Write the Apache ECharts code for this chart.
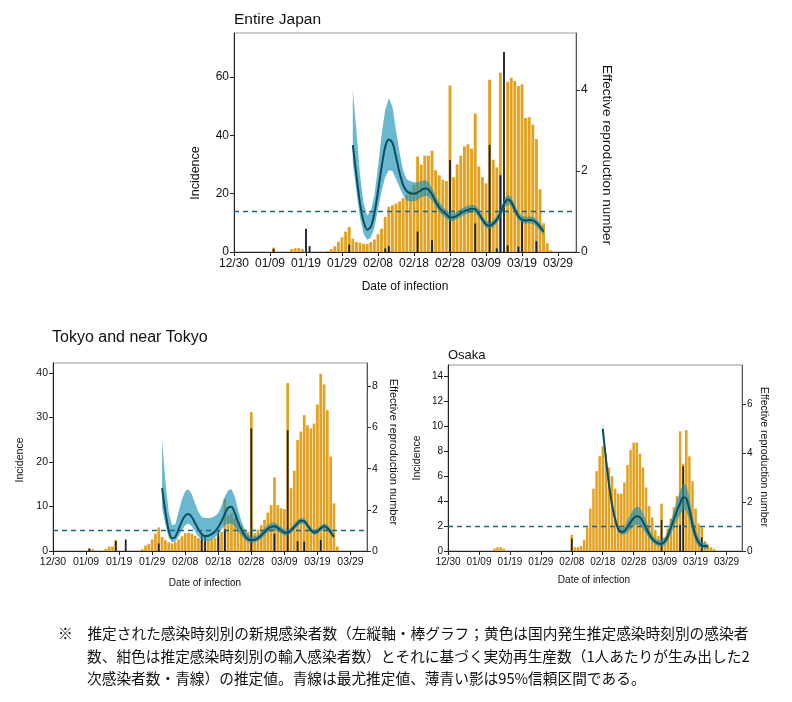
<!DOCTYPE html>
<html>
<head>
<meta charset="utf-8">
<script src="https://cdn.jsdelivr.net/npm/echarts@6.0.0/dist/echarts.min.js"></script>
<style>
html,body{margin:0;padding:0;background:#ffffff;}
#chart{width:792px;height:702px;}
</style>
</head>
<body>
<div id="chart"></div>
<script>
// ---------------- DATA ----------------
// x = days since 12/30 (day 0)
const xTickLabels = ['12/30','01/09','01/19','01/29','02/08','02/18','02/28','03/09','03/19','03/29'];

// Entire Japan: domestic (yellow) incidence per day, day 0..88
const japanYellow = [0,0,0,0,0,0,0,0,0,0, 0,1.5,0,0,0,0,1,1.3,1.3,1,
  0,0,0,0,0,0,0.3,1,2,3.5, 5,7,8.6,4.6,3.5,3.2,2.8,2.8,3.4,4.3,
  6.1,8,12,15.5,16,16.6,17.3,18.5,19.5,21, 23,32.7,29.9,33,33,34.7,28,26.3,24.7,24.3,
  57,25.6,30,33,36.2,36.9,35.4,47.4,29.3,25.6, 23.5,59,31.6,29,61.4,0,58.3,59.7,58.6,56.8,
  57.4,45.9,46.2,43.6,38.7,21.5,9.8,3,0.6];
const japanDarkDays = [11,20,21,32,42,43,51,55,60,67,71,73,74,75,76,79,80,84];
const japanDark     = [1,8,2,2.5,1.2,2,7,4,31.5,9.8,36.7,1.2,26.3,68.5,2.3,1.8,10.9,3.7];
const japanRStart = 33;
const japanR = [2.64,1.9,1.2,0.75,0.55,0.62,0.95,1.5,2.1,2.6, 2.78,2.7,2.35,1.95,1.65,1.5,1.45,1.44,1.47,1.53,
  1.57,1.55,1.42,1.25,1.1,1.0,0.93,0.85,0.86,0.9, 0.96,1.01,1.04,1.07,1.06,0.95,0.8,0.68,0.65,0.7,
  0.8,0.95,1.18,1.3,1.24,1.05,0.88,0.8,0.78,0.79, 0.78,0.72,0.62,0.5];
const japanRLow = [2.2,1.5,0.85,0.45,0.3,0.35,0.6,1.05,1.5,1.85, 2.02,2.0,1.8,1.6,1.4,1.27,1.25,1.25,1.28,1.35,
  1.38,1.38,1.28,1.12,0.98,0.9,0.83,0.76,0.77,0.81, 0.87,0.92,0.95,0.98,0.97,0.86,0.72,0.6,0.58,0.62,
  0.71,0.85,1.06,1.18,1.13,0.95,0.79,0.72,0.7,0.71, 0.7,0.63,0.53,0.41];
const japanRHigh = [4.0,3.0,1.9,1.2,0.9,1.0,1.4,2.1,2.9,3.5, 3.8,3.6,3.0,2.45,2.0,1.8,1.75,1.72,1.72,1.75,
  1.78,1.73,1.58,1.4,1.23,1.12,1.04,0.95,0.96,1.0, 1.06,1.11,1.14,1.17,1.16,1.05,0.89,0.77,0.73,0.78,
  0.89,1.05,1.3,1.42,1.36,1.16,0.98,0.89,0.87,0.88, 0.87,0.81,0.71,0.6];

// Tokyo and near Tokyo, day 0..86
const tokyoYellow = [0,0,0,0,0,0,0,0,0,0, 0,0.4,0.4,0,0,0,0.5,1,1,2.5,
  0,0,0,0,0,0,0,0.4,1.2,1.6, 2.6,3.9,5.3,3.2,2.4,1.9,1.7,2.0,2.6,3.3,
  4.0,4.1,3.9,3.4,2.9,2.5,2.1,2.5,2.6,2.9, 3.2,4.3,11.7,8,8.5,7.5,6.5,5.5,4.7,4.3,
  31.2,4,4.8,5.8,7,8.6,10.3,16.5,10.3,9.6, 9.4,37.7,14.1,18,24.9,26.8,30.5,28.2,27.5,28.6,
  32.9,39.8,37.4,31.6,21.2,10.7,1];
const tokyoDarkDays = [11,19,22,32,45,46,50,52,60,67,71,74,76,81];
const tokyoDark     = [0.6,2.2,2.6,1.7,3.6,3.6,4.5,4.9,27.5,3.9,27.1,2.2,2.1,2.5];
const tokyoRStart = 33;
const tokyoR = [3.05,1.9,1.0,0.62,0.68,1.05,1.45,1.72,1.8,1.65, 1.35,1.05,0.82,0.72,0.74,0.82,0.95,1.15,1.45,1.8,
  2.1,2.15,1.85,1.4,1.05,0.75,0.58,0.53,0.55,0.62, 0.75,0.92,1.08,1.17,1.2,1.12,1.0,0.9,0.89,1.0,
  1.17,1.35,1.47,1.45,1.25,1.02,0.9,0.95,1.1,1.2, 1.12,0.92,0.69];
const tokyoRLow = [2.1,1.3,0.65,0.42,0.45,0.7,1.0,1.25,1.34,1.2, 0.95,0.7,0.55,0.47,0.48,0.55,0.66,0.83,1.05,1.25,
  1.34,1.32,1.2,0.95,0.75,0.55,0.42,0.4,0.42,0.48, 0.6,0.75,0.9,0.99,1.02,0.95,0.85,0.77,0.77,0.87,
  1.03,1.2,1.32,1.3,1.11,0.9,0.78,0.83,0.97,1.06, 0.98,0.79,0.57];
const tokyoRHigh = [5.4,3.4,1.9,1.25,1.3,1.9,2.5,2.9,3.0,2.75, 2.3,1.9,1.65,1.6,1.6,1.62,1.7,1.85,2.2,2.65,
  2.95,3.0,2.65,2.0,1.45,1.05,0.8,0.7,0.72,0.78, 0.92,1.1,1.27,1.37,1.4,1.3,1.17,1.05,1.02,1.14,
  1.32,1.5,1.62,1.6,1.39,1.15,1.02,1.08,1.24,1.35, 1.27,1.06,0.82];

// Osaka, day 0..86
const osakaYellow = [0,0,0,0,0,0,0,0,0,0, 0,0,0,0,0,0.2,0.3,0.3,0.2,0,
  0,0,0,0,0,0,0,0,0,0, 0,0,0,0,0,0,0,0,0,0,
  1.3,0.3,0.3,0.4,0.9,1.9,3.4,5.0,6.4,7.6, 8.4,7.8,6.7,6.0,5.0,4.6,4.6,5.5,6.9,8.1,
  8.7,8.7,7.8,6.7,5.1,3.6,2.7,1.7,1.2,3.8, 1.1,1.8,2.6,3.5,4.4,9.6,7.0,9.7,7.6,5.6,
  3.4,2.2,1.9,0.8,0.5,0.3,0.15];
const osakaDarkDays = [40,69,75,76,82];
const osakaDark     = [1.0,2.5,2.1,6.8,1.1];
const osakaRStart = 50;
const osakaR = [5.0,3.8,2.75,1.9,1.3,0.9,0.78,0.82,0.98,1.18, 1.35,1.42,1.38,1.2,0.95,0.7,0.5,0.38,0.31,0.3,
  0.38,0.6,0.95,1.3,1.65,1.95,2.2,2.15,1.7,1.1, 0.62,0.35,0.22,0.2,0.18];
const osakaRLow = [4.8,3.6,2.55,1.72,1.15,0.78,0.66,0.68,0.75,0.9, 1.02,1.08,1.05,0.9,0.7,0.52,0.36,0.26,0.2,0.18,
  0.24,0.4,0.68,0.98,1.25,1.5,1.7,1.65,1.28,0.78, 0.38,0.18,0.1,0.08,0.07];
const osakaRHigh = [5.3,4.05,2.98,2.1,1.47,1.03,0.92,0.98,1.25,1.5, 1.72,1.82,1.78,1.55,1.25,0.9,0.66,0.52,0.44,0.44,
  0.55,0.82,1.25,1.65,2.08,2.45,2.75,2.7,2.15,1.45, 0.88,0.55,0.36,0.32,0.3];

// ---------------- STYLE / LAYOUT ----------------
const FONT = '"Liberation Sans", Arial, Helvetica, sans-serif';
const CJK = '"Noto Sans CJK JP", "Noto Sans CJK SC", sans-serif';
const YELLOW = '#E3A11F';
const DARK = '#1D2436';
const BAND = 'rgba(22,142,182,0.64)';
const LINE = '#0B4D60';
const DASH = '#1E6580';

const panels = [
  { grid:{left:234, top:33, width:342, height:219}, yMax:75, yInt:20, rMax:5.41, fs:12,
    yellow:japanYellow, darkDays:japanDarkDays, dark:japanDark,
    rStart:japanRStart, r:japanR, rLow:japanRLow, rHigh:japanRHigh, yw:2.9, dw:1.9 },
  { grid:{left:53, top:363, width:314, height:188}, yMax:42.2, yInt:10, rMax:9.13, fs:10.5,
    yellow:tokyoYellow, darkDays:tokyoDarkDays, dark:tokyoDark,
    rStart:tokyoRStart, r:tokyoR, rLow:tokyoRLow, rHigh:tokyoRHigh, yw:2.7, dw:1.8 },
  { grid:{left:448, top:365, width:294, height:186}, yMax:14.92, yInt:2, rMax:7.61, fs:10,
    yellow:osakaYellow, darkDays:osakaDarkDays, dark:osakaDark,
    rStart:osakaRStart, r:osakaR, rLow:osakaRLow, rHigh:osakaRHigh, yw:2.5, dw:1.7 }
];

function ticksUpTo(max, step){ const a=[]; for(let v=0; v<=max+1e-9; v+=step) a.push(Math.round(v*1000)/1000); return a; }
const xTicks = xTickLabels.map((_, i) => i*10);

const grids=[], xAxes=[], yAxes=[], series=[];
panels.forEach((p, i) => {
  grids.push(Object.assign({show:true, borderColor:'#9a9a9a', borderWidth:1, backgroundColor:'transparent'}, p.grid));
  const xa = (show) => ({
    type:'value', gridIndex:i, min:0, max:95, interval:10, show:show,
    axisLine:{show:true, onZero:false, lineStyle:{color:'#222', width:1}},
    axisTick:{show:true, length:4, lineStyle:{color:'#222'}, customValues:xTicks},
    axisLabel:{show:true, fontSize:p.fs, color:'#111', fontFamily:FONT, margin:6, customValues:xTicks,
      formatter:(v)=> (Math.abs(v%10)<1e-6 && v<=90) ? xTickLabels[Math.round(v/10)] : ''},
    splitLine:{show:false}
  });
  xAxes.push(xa(true));
  xAxes.push(xa(false));
  const yt = ticksUpTo(p.yMax, p.yInt);
  const rt = ticksUpTo(p.rMax, 2);
  yAxes.push({
    type:'value', gridIndex:i, position:'left', min:0, max:p.yMax, interval:p.yInt,
    axisLine:{show:true, onZero:false, lineStyle:{color:'#222'}},
    axisTick:{show:true, length:4, lineStyle:{color:'#222'}, customValues:yt},
    axisLabel:{fontSize:p.fs, color:'#111', fontFamily:FONT, margin:5, customValues:yt,
      formatter:(v)=> yt.indexOf(Math.round(v*1000)/1000) >= 0 ? String(v) : ''},
    splitLine:{show:false}
  });
  yAxes.push({
    type:'value', gridIndex:i, position:'right', min:0, max:p.rMax, interval:2,
    axisLine:{show:true, onZero:false, lineStyle:{color:'#555'}},
    axisTick:{show:true, length:4, lineStyle:{color:'#333'}, customValues:rt},
    axisLabel:{fontSize:p.fs, color:'#111', fontFamily:FONT, margin:5, customValues:rt,
      formatter:(v)=> rt.indexOf(Math.round(v*1000)/1000) >= 0 ? String(v) : ''},
    splitLine:{show:false}
  });

  const yData = [];
  p.yellow.forEach((v, d) => { if (v > 0) yData.push([d, v]); });
  const dData = p.darkDays.map((d, k) => [d, p.dark[k]]);
  series.push({type:'bar', xAxisIndex:2*i, yAxisIndex:2*i, data:yData, barWidth:p.yw,
    itemStyle:{color:YELLOW}, z:2, silent:true, animation:false});
  series.push({type:'bar', xAxisIndex:2*i+1, yAxisIndex:2*i, data:dData, barWidth:p.dw,
    itemStyle:{color:DARK}, z:2, silent:true, animation:false});

  const pr = p;
  series.push({type:'custom', xAxisIndex:2*i, yAxisIndex:2*i+1, data:[[pr.rStart, pr.r[0]]], z:3, silent:true,
    animation:false, clip:true,
    renderItem:(params, api) => {
      if (params.dataIndex !== 0) return null;
      const pts = [];
      for (let k=0; k<pr.rHigh.length; k++) pts.push(api.coord([pr.rStart+k, pr.rHigh[k]]));
      for (let k=pr.rLow.length-1; k>=0; k--) pts.push(api.coord([pr.rStart+k, pr.rLow[k]]));
      return {type:'polygon', shape:{points:pts, smooth:0}, style:{fill:BAND, stroke:null}};
    }});
  series.push({type:'line', xAxisIndex:2*i, yAxisIndex:2*i+1,
    data: pr.r.map((v,k)=>[pr.rStart+k, v]), symbol:'none', smooth:0.3, z:4, silent:true, animation:false,
    lineStyle:{color:LINE, width:2},
    markLine:{silent:true, symbol:['none','none'], label:{show:false}, animation:false,
      lineStyle:{color:DASH, type:[5,4], width:1.3}, data:[{yAxis:1}]}});
});

function txt(text, x, y, size, opts){
  opts = opts || {};
  return {type:'text', x:x, y:y, rotation:opts.rot || 0, silent:true, z:10,
    style:{text:text, fontSize:size, fontFamily:opts.font || FONT, fill:'#111',
      textAlign:opts.align || 'center', align:opts.align || 'center',
      textVerticalAlign:'middle', verticalAlign:'middle'}};
}
const R90 = Math.PI/2;
const graphics = [
  txt('Entire Japan', 234, 20, 15.5, {align:'left'}),
  txt('Tokyo and near Tokyo', 52, 338, 16, {align:'left'}),
  txt('Osaka', 448, 355, 13, {align:'left'}),
  txt('Incidence', 196, 173, 12.5, {rot:R90}),
  txt('Effective reproduction number', 607, 155, 13.5, {rot:-R90}),
  txt('Date of infection', 405, 287, 12),
  txt('Incidence', 20, 460, 10.5, {rot:R90}),
  txt('Effective reproduction number', 393, 452, 11, {rot:-R90}),
  txt('Date of infection', 205, 583, 10),
  txt('Incidence', 417, 458, 10.5, {rot:R90}),
  txt('Effective reproduction number', 764, 457, 10.5, {rot:-R90}),
  txt('Date of infection', 594, 580, 10),
  txt('※　推定された感染時刻別の新規感染者数（左縦軸・棒グラフ；黄色は国内発生推定感染時刻別の感染者', 58, 633, 14.7, {align:'left', font:CJK}),
  txt('数、紺色は推定感染時刻別の輸入感染者数）とそれに基づく実効再生産数（1人あたりが生み出した2', 87, 656, 14.7, {align:'left', font:CJK}),
  txt('次感染者数・青線）の推定値。青線は最尤推定値、薄青い影は95%信頼区間である。', 87, 678, 14.7, {align:'left', font:CJK})
];

const chart = echarts.init(document.getElementById('chart'), null, {renderer:'canvas', width:792, height:702});
chart.setOption({
  animation:false,
  backgroundColor:'#ffffff',
  grid:grids, xAxis:xAxes, yAxis:yAxes, series:series,
  graphic:{elements:graphics}
});
</script>
</body>
</html>
